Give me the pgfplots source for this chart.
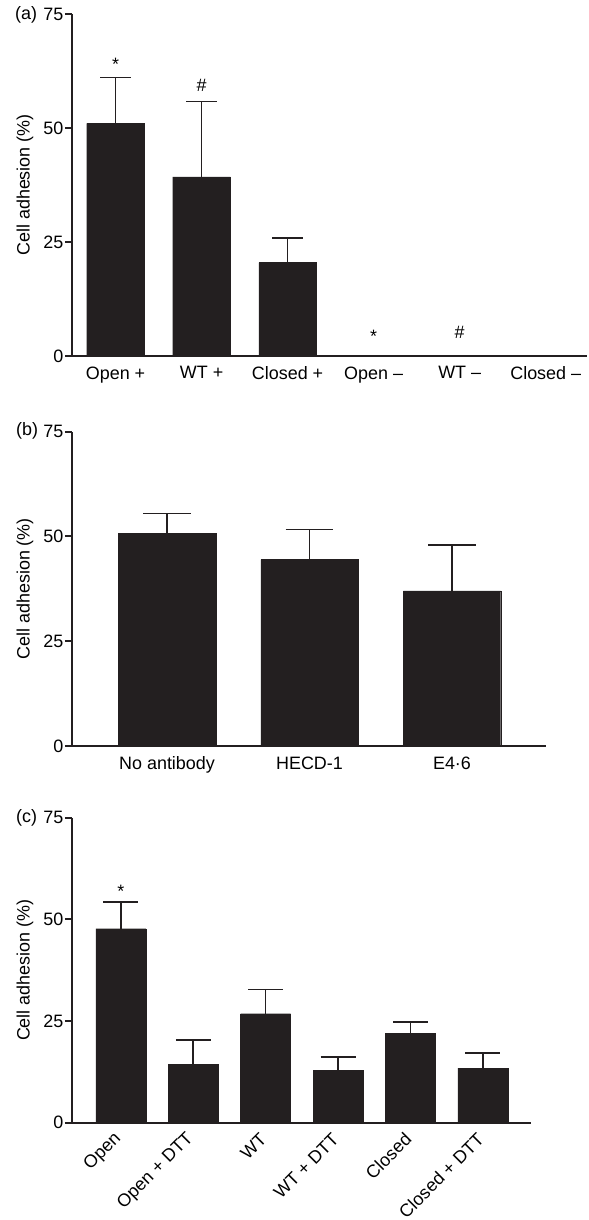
\documentclass[border=0pt]{standalone}
\usepackage{fontspec}
\setmainfont{Liberation Sans}
\usepackage{pgfplots}
\pgfplotsset{compat=1.18}
\definecolor{barc}{RGB}{35,31,32}
\pgfplotsset{
  panel/.style={
    scale only axis,
    axis lines=left,
    axis line style={line width=2bp,-,barc},
    ymin=0, ymax=75, ytick={0,25,50,75},
    tick align=outside,
    major tick length=7bp,
    every tick/.style={line width=2bp,barc},
    x tick style={draw=none},
    xtick=data,
    clip=false,
    font=\fontsize{18}{21}\selectfont,
    yticklabel style={inner xsep=1.5bp},
    /pgf/number format/assume math mode=true,
    ylabel={Cell adhesion (\%)},
    ybar, bar shift=0pt,
    error bars/error bar style={line width=1.6bp,barc},
  },
  bars/.style={fill=barc, draw=barc, error bars/.cd, y dir=plus, y explicit},
}
\begin{document}
\begin{tikzpicture}
\path[use as bounding box] (0,0) rectangle (589bp,1220bp);
% (a)
\begin{axis}[panel, at={(72bp,864bp)}, anchor=south west,
  width=515bp, height=342bp,
  xmin=-0.506, xmax=5.48, bar width=0.67,
  xticklabels={Open +, WT +, Closed +, Open –, WT –, Closed –},
  every axis y label/.style={at={(axis description cs:-0.0913,0.5)},rotate=90,anchor=center},
  error bars/error mark options={rotate=90,mark size=15.5bp,line width=1.6bp,barc}]
\addplot[bars] coordinates {
  (0,51.0) +- (0,10.1)
  (1,39.3) +- (0,16.5)
  (2,20.5) +- (0,5.4)
  (3,0) +- (0,0)
  (4,0) +- (0,0)
  (5,0) +- (0,0)
};
\node[anchor=base] at (axis cs:0,62.5) {*};
\node[anchor=base] at (axis cs:1,58) {\#};
\node[anchor=base] at (axis cs:3,3) {*};
\node[anchor=base] at (axis cs:4,3.8) {\#};
\end{axis}
\node[anchor=west,inner sep=0pt] at (15bp,1205bp) {\fontsize{18}{21}\selectfont (a)};
% (b)
\begin{axis}[panel, at={(72bp,474bp)}, anchor=south west,
  width=474.3bp, height=314.3bp,
  xmin=-0.667, xmax=2.662, bar width=0.684,
  xticklabels={No antibody, HECD-1, E4·6},
  every axis y label/.style={at={(axis description cs:-0.0991,0.5)},rotate=90,anchor=center},
  error bars/error mark options={rotate=90,mark size=23.8bp,line width=1.6bp,barc}]
\addplot[bars] coordinates {
  (0,50.7) +- (0,4.8)
  (1,44.5) +- (0,7.2)
  (2,37.0) +- (0,11.0)
};
\end{axis}
\node[anchor=west,inner sep=0pt] at (16bp,789bp) {\fontsize{18}{21}\selectfont (b)};
% (c)
\begin{axis}[panel, at={(72bp,97.3bp)}, anchor=south west,
  width=459bp, height=305bp,
  xmin=-0.674, xmax=5.663, bar width=0.69,
  xticklabels={Open, Open + DTT, WT, WT + DTT, Closed, Closed + DTT},
  xticklabel style={yshift=-4bp, rotate=45, anchor=east},
  every axis y label/.style={at={(axis description cs:-0.1024,0.5)},rotate=90,anchor=center},
  error bars/error mark options={rotate=90,mark size=17.5bp,line width=1.6bp,barc}]
\addplot[bars] coordinates {
  (0,47.7) +- (0,6.5)
  (1,14.3) +- (0,6.0)
  (2,26.8) +- (0,6.0)
  (3,12.8) +- (0,3.4)
  (4,22.0) +- (0,2.8)
  (5,13.4) +- (0,3.7)
};
\node[anchor=base] at (axis cs:0,55.4) {*};
\end{axis}
\node[anchor=west,inner sep=0pt] at (16bp,402.3bp) {\fontsize{18}{21}\selectfont (c)};
\end{tikzpicture}
\end{document}
